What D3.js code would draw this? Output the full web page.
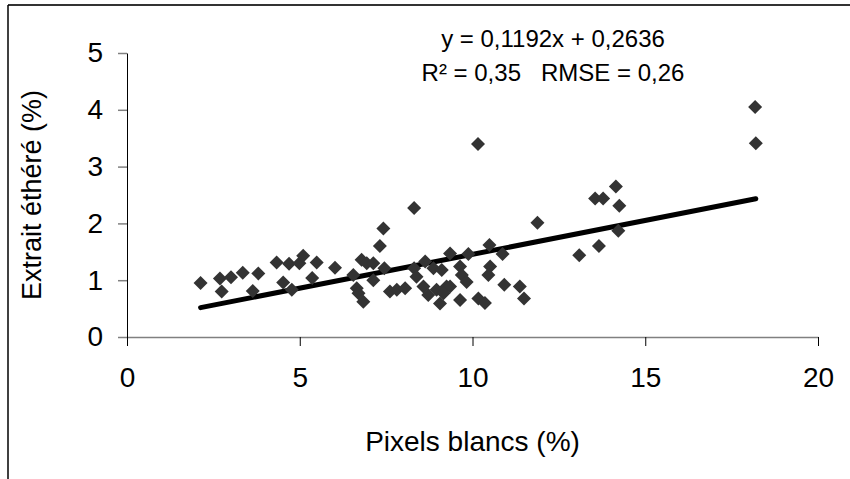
<!DOCTYPE html>
<html>
<head>
<meta charset="utf-8">
<script src="https://cdn.jsdelivr.net/npm/d3@7"></script>
<style>
  body { margin: 0; background: #fff; }
  text { font-family: "Liberation Sans", Arial, sans-serif; fill: #000; }
</style>
</head>
<body>
<svg id="chart" width="850" height="479"></svg>
<script>
// values
const pixelsBlancs = [2.13, 2.69, 2.74, 3.01, 3.35, 3.64, 3.80, 4.33, 4.69, 4.52, 4.77, 4.99, 5.10, 5.49, 5.36,
  6.02, 6.55, 6.79, 6.94, 7.13, 6.65, 6.70, 6.84, 7.13, 7.45, 7.32, 7.42, 8.31, 7.61, 7.81, 8.05, 8.31, 8.38,
  8.63, 8.58, 8.72, 8.87, 9.11, 8.96, 9.06, 9.25, 9.35, 9.88, 10.49, 10.87, 11.88, 9.64, 9.69, 9.83, 10.51,
  10.46, 9.35, 9.16, 10.17, 10.36, 10.92, 11.37, 11.49, 10.16, 13.55, 13.78, 14.15, 14.25, 14.22, 13.66,
  13.09, 18.18, 18.20, 9.64]
const extraitEthere = [0.95, 1.03, 0.80, 1.05, 1.13, 0.81, 1.12, 1.31, 1.29, 0.96, 0.83, 1.30, 1.43, 1.31, 1.04,
  1.22, 1.09, 1.36, 1.30, 1.30, 0.86, 0.77, 0.62, 1.00, 1.21, 1.60, 1.91, 2.27, 0.80, 0.83, 0.86, 1.21, 1.06,
  1.33, 0.89, 0.74, 1.21, 1.18, 0.83, 0.59, 0.89, 1.47, 1.46, 1.62, 1.46, 2.01, 1.24, 1.09, 0.97, 1.24,
  1.09, 0.89, 0.77, 0.68, 0.60, 0.92, 0.89, 0.68, 3.40, 2.44, 2.44, 2.65, 2.31, 1.87, 1.60,
  1.44, 4.05, 3.41, 0.65]
const points = pixelsBlancs.map((x, i) => ({x: x, y: extraitEthere[i]}))

const slope = 0.1192, intercept = 0.2636
const xTicks = [0, 5, 10, 15, 20]
const yTicks = [0, 1, 2, 3, 4, 5]
const equationLines = ['y = 0,1192x + 0,2636', 'R² = 0,35   RMSE = 0,26']

const margin = {left: 127, top: 53, right: 32, bottom: 142}
const width = 850 - margin.left - margin.right
const height = 479 - margin.top - margin.bottom

const svg = d3.select('#chart')

// outer frame (top + left edges only are visible)
svg.append('line').attr('x1', 8).attr('x2', 850).attr('y1', 5).attr('y2', 5)
  .attr('stroke', '#333').attr('stroke-width', 2)
svg.append('line').attr('x1', 8).attr('x2', 8).attr('y1', 5).attr('y2', 479)
  .attr('stroke', '#000').attr('stroke-width', 1.5)

const chart = svg.append('g')
  .attr('transform', `translate(${margin.left}, ${margin.top})`)

const xScale = d3.scaleLinear().domain([0, 20]).range([0, width])
const yScale = d3.scaleLinear().domain([0, 5]).range([height, 0])

const xAxis = chart.append('g')
  .attr('transform', `translate(0, ${height})`)
  .call(d3.axisBottom(xScale).tickValues(xTicks).tickFormat(d3.format('d'))
    .tickSize(9).tickPadding(21).tickSizeOuter(0))
xAxis.select('.domain').attr('stroke', '#808080').attr('stroke-width', 1.5)
xAxis.selectAll('.tick line').attr('stroke', '#000')

const yAxis = chart.append('g')
  .call(d3.axisLeft(yScale).tickValues(yTicks).tickFormat(d3.format('d'))
    .tickSize(9).tickPadding(15).tickSizeOuter(0))
yAxis.select('.domain').attr('stroke', '#000')
yAxis.selectAll('.tick line').attr('stroke', '#808080').attr('stroke-width', 1.5)

chart.selectAll('.tick text')
  .style('font-family', '"Liberation Sans", Arial, sans-serif')
  .style('font-size', '28px')
  .attr('fill', '#000')

// trend line
const xMin = d3.min(pixelsBlancs), xMax = d3.max(pixelsBlancs)
chart.append('path')
  .datum([xMin, xMax])
  .attr('fill', 'none')
  .attr('stroke', '#000')
  .attr('stroke-width', 5)
  .attr('stroke-linecap', 'round')
  .attr('d', d3.line()
    .x(d => xScale(d))
    .y(d => yScale(slope * d + intercept)))

// diamonds
chart.selectAll('.pt')
  .data(points)
  .enter().append('path')
  .attr('class', 'pt')
  .attr('transform', d => `translate(${xScale(d.x)}, ${yScale(d.y)})`)
  .attr('d', 'M0,-7L7,0L0,7L-7,0Z')
  .attr('fill', '#333')

// equation
chart.selectAll('.eq')
  .data(equationLines)
  .enter().append('text')
  .attr('class', 'eq')
  .attr('x', 553 - margin.left)
  .attr('y', (d, i) => 47 - margin.top + i * 34)
  .attr('text-anchor', 'middle')
  .style('font-size', '24px')
  .style('white-space', 'pre')
  .text(d => d)

chart.append('text')
  .attr('x', width / 2)
  .attr('y', height + 114)
  .attr('text-anchor', 'middle')
  .style('font-size', '28px')
  .text('Pixels blancs (%)')

chart.append('text')
  .attr('transform', `translate(${-86}, ${height / 2}) rotate(-90)`)
  .attr('text-anchor', 'middle')
  .style('font-size', '27px')
  .text('Extrait éthéré (%)')
</script>
</body>
</html>
